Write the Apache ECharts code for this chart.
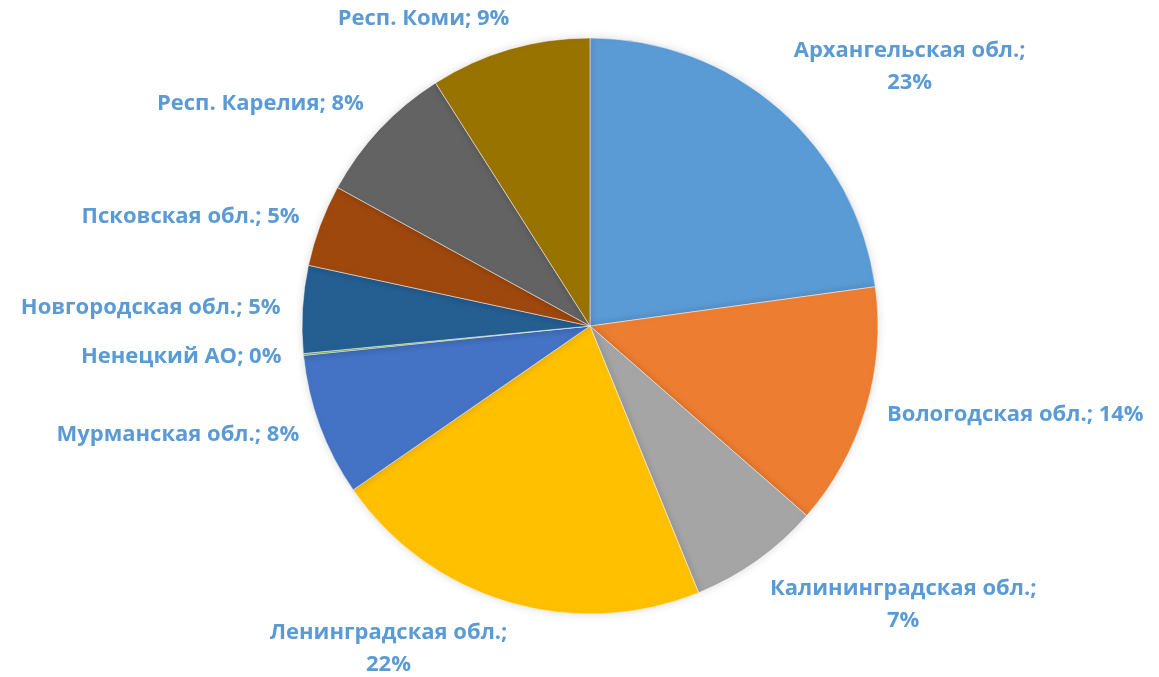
<!DOCTYPE html>
<html>
<head>
<meta charset="utf-8">
<script src="https://cdn.jsdelivr.net/npm/echarts@6/dist/echarts.min.js"></script>
<style>
  html, body { margin: 0; padding: 0; background: #fff; }
  #chart { width: 1159px; height: 677px; }
</style>
</head>
<body>
<div id="chart"></div>
<script>
// регионы СЗФО, доли в процентах (читаются с картинки)
var regions = ['Архангельская обл.', 'Вологодская обл.', 'Калининградская обл.', 'Ленинградская обл.',
    'Мурманская обл.', 'Ненецкий АО', 'Новгородская обл.', 'Псковская обл.', 'Респ. Карелия', 'Респ. Коми'];
var shares = [22.8, 13.6, 7.4, 21.5, 8.0, 0.1, 4.9, 4.6, 8.0, 9.0];
var colors = ['#5B9BD5', '#ED7D31', '#A5A5A5', '#FFC000', '#4472C4', '#70AD47', '#255E91', '#9E480E', '#636363', '#997300'];
// подписи в две строки
var wrapped = ['Архангельская обл.', 'Калининградская обл.', 'Ленинградская обл.'];

var CX = 590, CY = 326, R = 288, GAP = 22;

var total = shares.reduce(function (a, b) { return a + b; }, 0);

function midAngle(i) {
    var cum = 0;
    for (var k = 0; k < i; k++) cum += shares[k];
    return (cum + shares[i] / 2) / total * 2 * Math.PI;
}

// какой угол рамки подписи прижимать к кругу
function sx(v) {
    return Math.max(-1, Math.min(1, v / 0.3));
}
function sy(v) {
    var t = Math.max(0, Math.min(1, (Math.abs(v) - 0.3) / 0.35));
    return v < 0 ? -t : t;
}

var chart = echarts.init(document.getElementById('chart'));

var option = {
    animation: false,
    color: colors,
    series: [{
        type: 'pie',
        center: [CX, CY],
        radius: R,
        startAngle: 90,
        clockwise: true,
        avoidLabelOverlap: false,
        itemStyle: {
            borderColor: '#ffffff',
            borderWidth: 0.5,
            shadowBlur: 8,
            shadowColor: 'rgba(0,0,0,0.15)'
        },
        label: {
            show: true,
            position: 'outside',
            color: '#5B9BD5',
            fontFamily: 'Open Sans',
            fontWeight: 'bold',
            fontSize: 22,
            lineHeight: 32,
            align: 'center',
            formatter: function (p) {
                var sep = wrapped.indexOf(p.name) >= 0 ? '\n' : ' ';
                return p.name + ';' + sep + Math.round(p.percent) + '%';
            }
        },
        labelLine: { show: false },
        labelLayout: function (p) {
            var a = midAngle(p.dataIndex);
            var ux = Math.sin(a), uy = -Math.cos(a);
            var w = p.labelRect.width, h = p.labelRect.height - 12;
            var px = CX + (R + GAP) * ux;
            var py = CY + (R + GAP) * uy;
            return {
                x: px + w / 2 * sx(ux),
                y: py + h / 2 * sy(uy),
                align: 'center',
                verticalAlign: 'middle'
            };
        },
        data: regions.map(function (name, i) {
            return { name: name, value: shares[i] };
        })
    }]
};

chart.setOption(option);
</script>
</body>
</html>
